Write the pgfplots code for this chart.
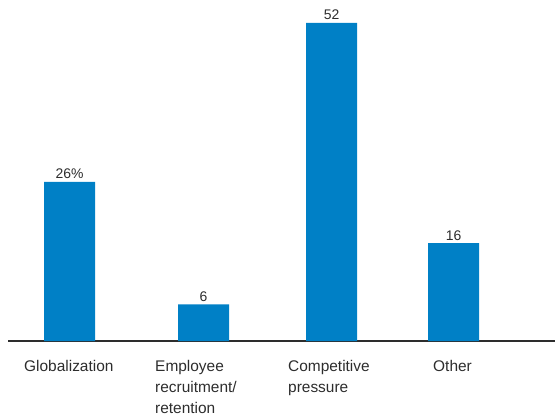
\documentclass[border=0pt]{standalone}
\usepackage{fontspec}
\setmainfont{Liberation Sans}
\usepackage{pgfplots}
\pgfplotsset{compat=1.18}
\definecolor{barblue}{RGB}{0,128,198}
\definecolor{txt}{RGB}{45,45,45}
\begin{document}
\begin{tikzpicture}
\path[use as bounding box] (-8bp,-74bp) rectangle (547bp,341bp);
\begin{axis}[
  scale only axis, width=547bp, height=341bp,
  xmin=8, xmax=555, ymin=0, ymax=55.72,
  axis x line*=bottom, axis y line=none,
  axis line style={draw=txt, line width=2bp, -},
  xtick=\empty, ytick=\empty,
  clip=false,
]
\addplot[ybar, fill=barblue, draw=none, bar width=51,
  nodes near coords, point meta=explicit symbolic,
  nodes near coords style={font=\fontsize{14}{16}\selectfont, text=txt, anchor=base, yshift=3bp, inner sep=0pt}]
  table[meta=label] {
x y label
69.5 26 26\%
203.5 6 6
331.7 52 52
453.5 16 16
};
\node[anchor=base west, align=left, inner sep=0pt, font=\fontsize{15.5}{21}\selectfont, text=txt] at (axis cs:24,0) [yshift=-30bp] {Globalization};
\node[anchor=base west, align=left, inner sep=0pt, font=\fontsize{15.5}{21}\selectfont, text=txt] at (axis cs:155,0) [yshift=-72bp] {Employee\\recruitment/\\retention};
\node[anchor=base west, align=left, inner sep=0pt, font=\fontsize{15.5}{21}\selectfont, text=txt] at (axis cs:288,0) [yshift=-51bp] {Competitive\\pressure};
\node[anchor=base west, align=left, inner sep=0pt, font=\fontsize{15.5}{21}\selectfont, text=txt] at (axis cs:433,0) [yshift=-30bp] {Other};
\end{axis}
\end{tikzpicture}
\end{document}
